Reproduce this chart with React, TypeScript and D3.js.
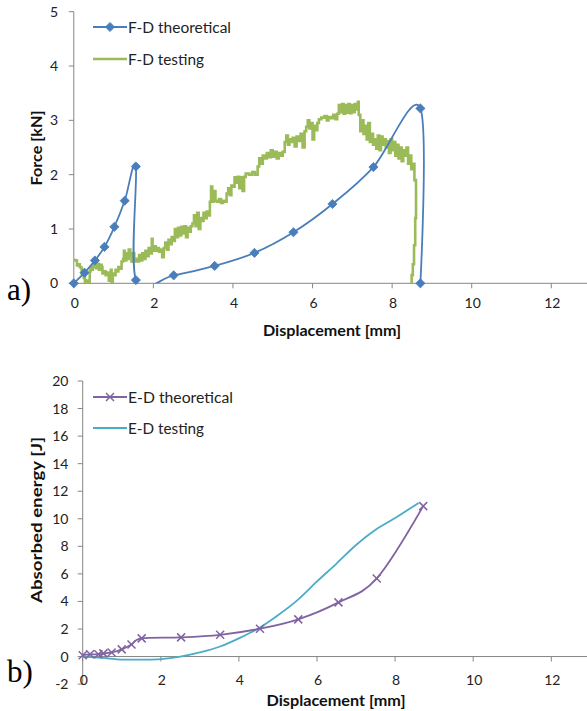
import React from "react";
import * as d3 from "d3";

// ---------- Data ----------
const fdTheoDisp = [0, 0.27, 0.53, 0.77, 1.02, 1.28, 1.56, 1.56, 2.51, 3.54, 4.54, 5.52, 6.5, 7.53, 8.71, 8.71];
const fdTheoForce = [0, 0.195, 0.42, 0.67, 1.04, 1.52, 2.15, 0.06, 0.147, 0.32, 0.56, 0.94, 1.46, 2.14, 3.22, 0];

const fdTestDisp = [
  0.0, 0.05, 0.08, 0.12, 0.15, 0.18, 0.2, 0.22, 0.25, 0.27, 0.28, 0.32, 0.33, 0.35, 0.38, 0.4, 0.42, 0.45, 0.48, 0.5,
  0.53, 0.56, 0.6, 0.63, 0.66, 0.7, 0.72, 0.76, 0.8, 0.84, 0.88, 0.9, 0.93, 0.95, 0.98, 1.02, 1.05, 1.08, 1.12, 1.15,
  1.2, 1.24, 1.26, 1.28, 1.32, 1.35, 1.38, 1.42, 1.45, 1.48, 1.52, 1.56, 1.6, 1.64, 1.68, 1.72, 1.76, 1.8, 1.84, 1.88,
  1.92, 1.96, 1.98, 2.02, 2.06, 2.1, 2.14, 2.18, 2.22, 2.26, 2.3, 2.34, 2.38, 2.42, 2.46, 2.5, 2.54, 2.58, 2.62, 2.66,
  2.7, 2.74, 2.78, 2.82, 2.86, 2.9, 2.94, 2.98, 3.02, 3.06, 3.1, 3.14, 3.18, 3.22, 3.26, 3.3, 3.34, 3.38, 3.42, 3.45,
  3.48, 3.52, 3.56, 3.6, 3.65, 3.7, 3.75, 3.8, 3.84, 3.88, 3.92, 3.96, 4.0, 4.04, 4.08, 4.12, 4.16, 4.2, 4.24, 4.28,
  4.32, 4.4, 4.48, 4.55, 4.62, 4.66, 4.7, 4.75, 4.8, 4.85, 4.9, 4.95, 5.0, 5.05, 5.1, 5.15, 5.2, 5.25, 5.3, 5.34,
  5.38, 5.42, 5.46, 5.5, 5.55, 5.6, 5.65, 5.7, 5.75, 5.8, 5.84, 5.88, 5.92, 5.96, 6.0, 6.04, 6.08, 6.12, 6.16, 6.22,
  6.3, 6.36, 6.4, 6.46, 6.52, 6.58, 6.62, 6.66, 6.7, 6.74, 6.78, 6.82, 6.86, 6.9, 6.94, 6.98, 7.02, 7.06, 7.1, 7.14,
  7.16, 7.2, 7.24, 7.28, 7.32, 7.36, 7.4, 7.44, 7.48, 7.52, 7.56, 7.6, 7.64, 7.68, 7.72, 7.76, 7.8, 7.84, 7.88, 7.92,
  7.96, 8.0, 8.04, 8.08, 8.12, 8.16, 8.2, 8.24, 8.28, 8.32, 8.36, 8.4, 8.44, 8.48, 8.52, 8.56, 8.6, 8.6, 8.58, 8.55,
  8.52, 8.49
];
const fdTestForce = [
  0.43, 0.42, 0.33, 0.35, 0.3, 0.28, 0.18, 0.22, 0.1, 0.15, 0.0, 0.0, 0.05, 0.0, 0.02, 0.22, 0.3, 0.25, 0.35, 0.3,
  0.37, 0.28, 0.36, 0.25, 0.34, 0.3, 0.18, 0.22, 0.15, 0.2, 0.05, 0.2, 0.25, 0.0, 0.18, 0.15, 0.25, 0.22, 0.3, 0.27,
  0.4, 0.45, 0.6, 0.42, 0.55, 0.45, 0.62, 0.5, 0.4, 0.55, 0.4, 0.45, 0.4, 0.52, 0.42, 0.55, 0.45, 0.6, 0.5, 0.65,
  0.55, 0.82, 0.6, 0.68, 0.6, 0.65, 0.58, 0.62, 0.48, 0.65, 0.75, 0.62, 0.8, 0.72, 0.85, 0.78, 1.0, 0.85, 1.02, 0.88,
  1.04, 0.92, 1.05, 0.85, 1.02, 0.95, 1.05, 1.1, 1.25, 1.05, 1.3, 1.0, 1.2, 1.15, 1.3, 1.2, 1.32, 1.25, 1.5, 1.78,
  1.5, 1.7, 1.52, 1.5, 1.55, 1.48, 1.52, 1.5, 1.65, 1.75, 1.62, 1.8, 1.78, 1.95, 1.85, 1.96, 1.75, 1.95, 1.7, 1.96,
  2.02, 2.0, 2.05, 2.0, 2.15, 2.3, 2.2, 2.35, 2.3, 2.4, 2.32, 2.45, 2.33, 2.42, 2.3, 2.4, 2.35, 2.42, 2.6, 2.72,
  2.55, 2.65, 2.6, 2.68, 2.52, 2.7, 2.62, 2.75, 2.5, 2.8, 2.88, 3.0, 2.85, 2.95, 2.65, 2.9, 2.82, 2.95, 3.02, 3.05,
  3.08, 3.0, 3.06, 3.04, 3.1, 3.02, 3.12, 3.28, 3.15, 3.3, 3.12, 3.28, 3.14, 3.3, 3.13, 3.28, 3.15, 3.3, 3.2, 3.34,
  3.1, 2.8, 3.0, 2.75, 2.9, 2.65, 2.95, 2.6, 2.75, 2.55, 2.65, 2.48, 2.72, 2.45, 2.7, 2.55, 2.65, 2.5, 2.62, 2.4,
  2.65, 2.45, 2.6, 2.35, 2.55, 2.3, 2.5, 2.25, 2.45, 2.35, 2.5, 2.2, 2.35, 2.1, 2.2, 1.9, 1.75, 1.2, 0.7, 0.35,
  0.15, 0.0
];

const edTheoDisp = [0, 0.19, 0.4, 0.53, 0.74, 1.0, 1.25, 1.51, 2.52, 3.52, 4.54, 5.52, 6.55, 7.53, 8.72];
const edTheoEnergy = [0.1, 0.16, 0.16, 0.23, 0.3, 0.52, 0.88, 1.32, 1.39, 1.58, 2.02, 2.7, 3.93, 5.67, 10.92];

const edTestDisp = [0, 0.5, 1.0, 1.5, 2.0, 2.5, 3.0, 3.5, 4.0, 4.5, 5.0, 5.5, 6.0, 6.5, 7.0, 7.5, 8.0, 8.6];
const edTestEnergy = [0, -0.1, -0.22, -0.22, -0.18, 0, 0.3, 0.71, 1.32, 2.04, 3.0, 4.1, 5.45, 6.75, 8.1, 9.2, 10.05, 11.15];

const forceTicks = [0, 1, 2, 3, 4, 5];
const energyTicks = [-2, 0, 2, 4, 6, 8, 10, 12, 14, 16, 18, 20];
const dispTicks = [0, 2, 4, 6, 8, 10, 12];

// ---------- Styles ----------
const W = 587;
const H = 711;
const FONT = "Lato, 'Open Sans', sans-serif";
const AXIS = "#868686";
const BLUE = "#4A7EBB";
const GREEN = "#9BBB59";
const PURPLE = "#8064A2";
const CYAN = "#4BACC6";

type P = [number, number];
const zip = (a: number[], b: number[]): P[] => a.map((v, i) => [v, b[i]]);

function Diamond({ x, y }: { x: number; y: number }) {
  const r = 4.6;
  return <path d={`M${x},${y - r}L${x + r},${y}L${x},${y + r}L${x - r},${y}Z`} fill={BLUE} stroke={BLUE} strokeWidth={0.8} />;
}
function Cross({ x, y }: { x: number; y: number }) {
  const r = 4;
  return <path d={`M${x - r},${y - r}L${x + r},${y + r}M${x - r},${y + r}L${x + r},${y - r}`} stroke={PURPLE} strokeWidth={1.5} fill="none" />;
}

export default function App() {
  const xA = d3.scaleLinear().domain([0, 12]).range([73.8, 551.3]);
  const yA = d3.scaleLinear().domain([0, 5]).range([283.3, 11.7]);
  const xB = d3.scaleLinear().domain([0, 12]).range([82.7, 551.3]);
  const yB = d3.scaleLinear().domain([-2, 20]).range([684.1, 381]);

  const smoothA = d3.line<P>().x(d => xA(d[0])).y(d => yA(d[1])).curve(d3.curveCardinal.tension(0));
  const stepA = d3.line<P>().x(d => xA(d[0])).y(d => yA(d[1])).curve(d3.curveStepAfter);
  const smoothB = d3.line<P>().x(d => xB(d[0])).y(d => yB(d[1])).curve(d3.curveCardinal.tension(0));

  const fdTheo = zip(fdTheoDisp, fdTheoForce);
  const fdTest = zip(fdTestDisp, fdTestForce);
  const edTheo = zip(edTheoDisp, edTheoEnergy);
  const edTest = zip(edTestDisp, edTestEnergy);

  const tickFont = { fontFamily: FONT, fontSize: 14, fill: "#222" };
  const titleFont = { fontFamily: FONT, fontSize: 16, fontWeight: 700, fill: "#111" };
  const legendFont = { fontFamily: FONT, fontSize: 15.5, fill: "#222" };
  const serif = { fontFamily: "'Liberation Serif', 'DejaVu Serif', serif", fontSize: 31, fill: "#000" };

  return (
    <svg width={W} height={H} style={{ position: "absolute", left: 0, top: 0, background: "#fff" }}>
      <defs>
        <clipPath id="clipA">
          <rect x={xA(0)} y={yA(5)} width={W - xA(0)} height={yA(0) - yA(5)} />
        </clipPath>
      </defs>

      {/* ===== Top chart (a) ===== */}
      <line x1={xA(0)} x2={xA(0)} y1={yA(5)} y2={yA(0)} stroke={AXIS} />
      <line x1={xA(0)} x2={W} y1={yA(0)} y2={yA(0)} stroke={AXIS} />
      {forceTicks.map(t => (
        <g key={"fy" + t}>
          <line x1={xA(0) - 5} x2={xA(0)} y1={yA(t)} y2={yA(t)} stroke={AXIS} />
          <text x={58} y={yA(t) + 5} textAnchor="end" style={tickFont}>{t}</text>
        </g>
      ))}
      {dispTicks.map(t => (
        <g key={"fx" + t}>
          <line x1={xA(t)} x2={xA(t)} y1={yA(0)} y2={yA(0) + 5} stroke={AXIS} />
          <text x={xA(t) + 1} y={308} textAnchor="middle" style={tickFont}>{t}</text>
        </g>
      ))}
      <text x={332} y={336} textAnchor="middle" textLength={138} lengthAdjust="spacingAndGlyphs" style={titleFont}>Displacement [mm]</text>
      <text transform={`translate(42,148) rotate(-90)`} textAnchor="middle" textLength={75} lengthAdjust="spacingAndGlyphs" style={titleFont}>Force [kN]</text>
      <text x={7} y={300} style={serif}>a)</text>

      <g clipPath="url(#clipA)">
        <path d={stepA(fdTest) || ""} fill="none" stroke={GREEN} strokeWidth={2.6} strokeLinejoin="miter" />
        <path d={smoothA(fdTheo) || ""} fill="none" stroke={BLUE} strokeWidth={1.8} />
      </g>
      {fdTheo.map((d, i) => <Diamond key={"dm" + i} x={xA(d[0])} y={yA(d[1])} />)}

      {/* legend a */}
      <line x1={93} x2={127} y1={27} y2={27} stroke={BLUE} strokeWidth={1.8} />
      <Diamond x={110} y={27} />
      <text x={128} y={32.5} textLength={103} lengthAdjust="spacingAndGlyphs" style={legendFont}>F-D theoretical</text>
      <line x1={93} x2={127} y1={59} y2={59} stroke={GREEN} strokeWidth={2.4} />
      <text x={128} y={64.5} textLength={76} lengthAdjust="spacingAndGlyphs" style={legendFont}>F-D testing</text>

      {/* ===== Bottom chart (b) ===== */}
      <line x1={xB(0)} x2={xB(0)} y1={yB(20)} y2={yB(-2)} stroke={AXIS} />
      <line x1={xB(0)} x2={W} y1={yB(0)} y2={yB(0)} stroke={AXIS} />
      {energyTicks.map(t => (
        <g key={"ey" + t}>
          <line x1={xB(0) - 5} x2={xB(0)} y1={yB(t)} y2={yB(t)} stroke={AXIS} />
          <text x={68.5} y={yB(t) + 5} textAnchor="end" style={tickFont}>{t}</text>
        </g>
      ))}
      {dispTicks.map(t => (
        <g key={"ex" + t}>
          <line x1={xB(t)} x2={xB(t)} y1={yB(0)} y2={yB(0) + 5} stroke={AXIS} />
          <text x={xB(t) + 1} y={685} textAnchor="middle" style={tickFont}>{t}</text>
        </g>
      ))}
      <text x={336} y={706} textAnchor="middle" textLength={139} lengthAdjust="spacingAndGlyphs" style={titleFont}>Displacement [mm]</text>
      <text transform={`translate(42,520) rotate(-90)`} textAnchor="middle" textLength={166} lengthAdjust="spacingAndGlyphs" style={titleFont}>Absorbed energy [J]</text>
      <text x={7} y={682} style={serif}>b)</text>

      <path d={smoothB(edTest) || ""} fill="none" stroke={CYAN} strokeWidth={1.8} />
      <path d={smoothB(edTheo) || ""} fill="none" stroke={PURPLE} strokeWidth={1.8} />
      {edTheo.map((d, i) => <Cross key={"cx" + i} x={xB(d[0])} y={yB(d[1])} />)}

      {/* legend b */}
      <line x1={93} x2={127} y1={397} y2={397} stroke={PURPLE} strokeWidth={1.8} />
      <Cross x={110} y={397} />
      <text x={128} y={402.5} textLength={105} lengthAdjust="spacingAndGlyphs" style={legendFont}>E-D theoretical</text>
      <line x1={93} x2={127} y1={428} y2={428} stroke={CYAN} strokeWidth={1.8} />
      <text x={128} y={433.5} textLength={76} lengthAdjust="spacingAndGlyphs" style={legendFont}>E-D testing</text>
    </svg>
  );
}
